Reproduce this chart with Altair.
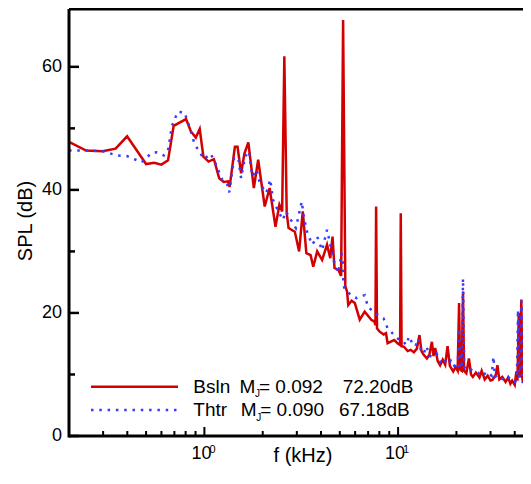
import altair as alt
import pandas as pd

# ---- data ----
bsln_f = [0.2, 0.245, 0.298, 0.348, 0.399, 0.500, 0.551, 0.600, 0.649, 0.694,
          0.804, 0.852, 0.903, 0.946, 0.988, 1.051, 1.120, 1.192, 1.259, 1.324,
          1.350, 1.437, 1.483, 1.547, 1.609, 1.686, 1.800, 1.895, 2.048, 2.171,
          2.328, 2.439, 2.52, 2.586, 2.66, 2.72, 2.93, 3.083, 3.22, 3.36,
          3.534, 3.647, 3.822, 4.052, 4.296, 4.465, 4.586, 4.695, 4.919, 5.08,
          5.20, 5.34, 5.45, 5.529, 5.753, 5.979, 6.339, 6.721, 7.268, 7.55,
          7.64, 7.70, 7.78, 8.007, 8.42, 8.66, 8.824, 9.544, 10.0, 10.24,
          10.32, 10.42, 10.73, 11.2, 11.6, 12.06, 12.5, 12.89, 13.2, 13.55,
          14.08, 14.5, 14.94, 15.23, 15.54, 16.0, 16.48, 17.0, 17.5, 18.0,
          18.5, 19.24, 19.8, 20.3, 20.64, 20.9, 21.3, 21.63, 21.9, 22.5,
          23.2, 23.8, 24.31, 25.2, 26.29, 27.0, 28.0, 29.0, 30.0, 30.71,
          32.0, 32.56, 33.3, 34.5, 35.88, 37.0, 38.0, 38.81, 40.0, 40.8,
          41.3, 41.97, 42.6, 43.25, 43.8, 44.13]
bsln_db = [47.8, 46.4, 46.3, 46.7, 48.7, 44.2, 44.4, 44.1, 44.8, 50.4,
           51.5, 49.5, 48.5, 49.9, 45.4, 44.6, 45.0, 41.9, 41.3, 41.4,
           40.5, 47.0, 47.0, 42.7, 45.9, 47.7, 40.3, 44.9, 37.3, 40.3,
           34.0, 37.6, 36.5, 61.7, 36.2, 33.8, 33.2, 30.0, 36.5, 29.7,
           29.4, 27.5, 30.0, 28.6, 31.1, 28.9, 32.4, 27.3, 27.0, 26.0,
           67.6, 24.3, 23.5, 21.3, 22.0, 21.6, 18.9, 20.2, 18.9, 18.6,
           18.0, 37.3, 17.5, 17.0, 16.5, 16.7, 15.1, 15.6, 15.0, 14.8,
           36.2, 14.6, 14.5, 13.8, 14.0, 13.6, 14.2, 16.4, 13.8, 13.2,
           12.6, 13.2, 15.3, 13.0, 14.3, 12.2, 11.5, 12.4, 11.6, 14.6,
           11.4, 10.5, 11.2, 10.6, 21.6, 10.8, 10.6, 23.5, 10.6, 10.2,
           12.6, 10.0, 9.6, 10.3, 9.5, 10.6, 9.2, 9.8, 9.0, 9.1,
           10.0, 11.5, 9.2, 9.6, 8.8, 9.5, 8.5, 9.0, 8.3, 10.5,
           9.0, 20.0, 9.5, 22.2, 9.4, 8.6]

thtr_f = [0.2, 0.245, 0.298, 0.3545, 0.3985, 0.475, 0.534, 0.566, 0.617, 0.649,
          0.680, 0.729, 0.789, 0.836, 0.887, 0.940, 0.997, 1.077, 1.141, 1.234,
          1.308, 1.344, 1.425, 1.500, 1.547, 1.620, 1.698, 1.767, 1.858, 1.931,
          2.088, 2.189, 2.259, 2.394, 2.538, 2.638, 2.797, 2.966, 3.181, 3.267,
          3.400, 3.605, 3.822, 4.052, 4.296, 4.465, 4.640, 4.919, 5.10, 5.179,
          5.216, 5.32, 5.753, 6.100, 6.721, 6.985, 7.553, 8.420, 8.824, 9.735,
          10.0, 10.51, 11.0, 11.4, 11.82, 12.3, 12.7, 13.1, 13.55, 14.0,
          14.5, 15.23, 15.8, 16.48, 17.2, 18.0, 18.7, 19.24, 19.9, 20.3,
          20.64, 21.0, 21.3, 21.63, 21.95, 22.5, 23.2, 24.31, 25.3, 26.29,
          27.3, 28.5, 29.6, 30.4, 31.07, 31.6, 32.56, 33.8, 35.88, 37.0,
          38.81, 40.0, 41.0, 41.6, 42.1, 42.8, 43.4, 43.9, 44.13]
thtr_db = [46.4, 46.4, 46.3, 45.6, 45.5, 44.5, 46.0, 46.1, 45.6, 46.4,
           50.4, 52.7, 52.6, 50.3, 47.6, 46.2, 45.0, 45.9, 44.3, 41.7,
           41.1, 39.6, 45.4, 44.9, 41.9, 45.4, 46.3, 42.2, 43.3, 41.1,
           39.5, 41.7, 38.4, 36.7, 35.1, 36.5, 35.1, 33.8, 38.1, 35.4,
           33.0, 31.1, 32.4, 30.2, 33.5, 31.1, 28.6, 26.5, 29.7, 28.6,
           24.6, 23.7, 22.9, 22.4, 22.9, 21.0, 20.0, 19.1, 17.5, 16.1,
           15.8, 15.6, 14.8, 16.2, 15.1, 14.6, 15.8, 14.0, 13.4, 14.6,
           13.0, 12.9, 13.4, 12.0, 12.6, 11.6, 12.2, 11.3, 11.6, 11.0,
           17.5, 11.0, 11.2, 25.6, 11.2, 10.8, 11.0, 10.6, 10.4, 10.2,
           10.6, 9.8, 10.1, 9.8, 12.9, 9.6, 9.9, 9.4, 9.1, 9.6,
           9.0, 8.8, 9.2, 20.5, 9.5, 10.5, 22.0, 9.2, 8.6]

legend_names = ["Bsln", "Thtr"]
legend_mj = ["0.092", "0.090"]
legend_db = ["72.20dB", "67.18dB"]

y_major = [0, 20, 40, 60]
y_major_labels = ["0", "20", "40", "60"]
y_minor = [10, 30, 50]
x_major = [1, 10]
x_major_exp = ["0", "1"]
x_minor = [0.3, 0.4, 0.5, 0.6, 0.7, 0.8, 0.9, 2, 3, 4, 5, 6, 7, 8, 9, 20, 30, 40]
x_title = "f (kHz)"
y_title = "SPL (dB)"

assert len(bsln_f) == len(bsln_db) and len(thtr_f) == len(thtr_db)

# ---- layout / style ----
W, H = 454, 427
FONT = "Liberation Sans"
RED = "#d20000"
BLUE = "#3a3aff"
xscale = alt.Scale(type="log", domain=[0.2, 44.13], nice=False)
yscale = alt.Scale(domain=[0, 69.4], nice=False, zero=False)
NOX = dict(scale=xscale, axis=None)
NOY = dict(scale=yscale, axis=None)

one = pd.DataFrame({"v": [0]})

red_line = alt.Chart(pd.DataFrame({"f": bsln_f, "spl": bsln_db})).mark_line(
    color=RED, strokeWidth=2.5, clip=True
).encode(x=alt.X("f:Q", **NOX), y=alt.Y("spl:Q", **NOY))

blue_line = alt.Chart(pd.DataFrame({"f": thtr_f, "spl": thtr_db})).mark_line(
    color=BLUE, strokeWidth=2.5, strokeDash=[2.5, 5.8], clip=True
).encode(x=alt.X("f:Q", **NOX), y=alt.Y("spl:Q", **NOY))


def yticks(vals, length):
    return alt.Chart(pd.DataFrame({"v": vals})).mark_rule(color="black", strokeWidth=2.5).encode(
        y=alt.Y("v:Q", **NOY), x=alt.value(0), x2=alt.value(length))


def xticks(vals, length):
    return alt.Chart(pd.DataFrame({"v": vals})).mark_rule(color="black", strokeWidth=2).encode(
        x=alt.X("v:Q", **NOX), y=alt.value(H), y2=alt.value(H - length))


frame = [
    alt.Chart(one).mark_rule(color="black", strokeWidth=3).encode(
        x=alt.value(0), x2=alt.value(W), y=alt.value(0)),           # top border
    alt.Chart(one).mark_rule(color="black", strokeWidth=3).encode(
        x=alt.value(0), x2=alt.value(W), y=alt.value(H)),           # x axis line
    alt.Chart(one).mark_rule(color="black", strokeWidth=3).encode(
        x=alt.value(0), y=alt.value(0), y2=alt.value(H + 1.5)),     # y axis line
]

ylab = alt.Chart(pd.DataFrame({"v": y_major, "t": y_major_labels})).mark_text(
    align="right", baseline="middle", font=FONT, fontSize=18, color="black"
).encode(y=alt.Y("v:Q", **NOY), x=alt.value(-7), text="t:N")

xlab_df = pd.DataFrame({"v": x_major, "base": ["10"] * len(x_major), "exp": x_major_exp})
xlab_base = alt.Chart(xlab_df).mark_text(
    align="left", baseline="alphabetic", dx=-13, font=FONT, fontSize=18, color="black"
).encode(x=alt.X("v:Q", **NOX), y=alt.value(H + 23), text="base:N")
xlab_exp = alt.Chart(xlab_df).mark_text(
    align="left", baseline="alphabetic", dx=5, font=FONT, fontSize=11, color="black"
).encode(x=alt.X("v:Q", **NOX), y=alt.value(H + 17), text="exp:N")

titles = [
    alt.Chart(pd.DataFrame({"t": [x_title]})).mark_text(
        align="center", baseline="alphabetic", font=FONT, fontSize=20, color="black"
    ).encode(x=alt.value(234), y=alt.value(H + 26), text="t:N"),
    alt.Chart(pd.DataFrame({"t": [y_title]})).mark_text(
        align="center", baseline="alphabetic", angle=270, font=FONT, fontSize=20, color="black"
    ).encode(x=alt.value(-37), y=alt.value(212), text="t:N"),
]

# ---- legend (inside plot, lower left) ----
legend_layers = []
rows = [
    dict(color=RED, dash=None, ly=377.7, by=383.7, mx=170.5, eqx=190.0, dbx=273.7),
    dict(color=BLUE, dash=[2.5, 5.8], ly=401.0, by=407.0, mx=171.7, eqx=191.2, dbx=270.0),
]
for i, r in enumerate(rows):
    df = pd.DataFrame({"name": [legend_names[i]], "m": ["M"], "j": ["J"],
                       "mj": ["= " + legend_mj[i]], "db": [legend_db[i]]})
    rule_kw = dict(color=r["color"], strokeWidth=2.5)
    if r["dash"]:
        rule_kw["strokeDash"] = r["dash"]
    legend_layers.append(alt.Chart(df).mark_rule(**rule_kw).encode(
        x=alt.value(22), x2=alt.value(109), y=alt.value(r["ly"])))
    tkw = dict(align="left", baseline="alphabetic", font=FONT, color="black")
    legend_layers.append(alt.Chart(df).mark_text(fontSize=19, **tkw).encode(
        x=alt.value(124.3), y=alt.value(r["by"]), text="name:N"))
    legend_layers.append(alt.Chart(df).mark_text(fontSize=19, **tkw).encode(
        x=alt.value(r["mx"]), y=alt.value(r["by"]), text="m:N"))
    legend_layers.append(alt.Chart(df).mark_text(fontSize=10, **tkw).encode(
        x=alt.value(r["mx"] + 15.5), y=alt.value(r["by"] + 4.5), text="j:N"))
    legend_layers.append(alt.Chart(df).mark_text(fontSize=19, **tkw).encode(
        x=alt.value(r["eqx"]), y=alt.value(r["by"]), text="mj:N"))
    legend_layers.append(alt.Chart(df).mark_text(fontSize=19, **tkw).encode(
        x=alt.value(r["dbx"]), y=alt.value(r["by"]), text="db:N"))

chart = alt.layer(
    red_line, blue_line,
    yticks(y_major, 10), yticks(y_minor, 6),
    xticks(x_major, 9), xticks(x_minor, 5),
    *frame, ylab, xlab_base, xlab_exp, *titles,
    *legend_layers,
).properties(
    width=W, height=H,
    autosize=alt.AutoSizeParams(type="none"),
    padding={"left": 61, "top": 1, "right": 0, "bottom": 30},
).configure_view(stroke=None)

chart.save("out.html", embed_options={"renderer": "svg", "actions": False})
